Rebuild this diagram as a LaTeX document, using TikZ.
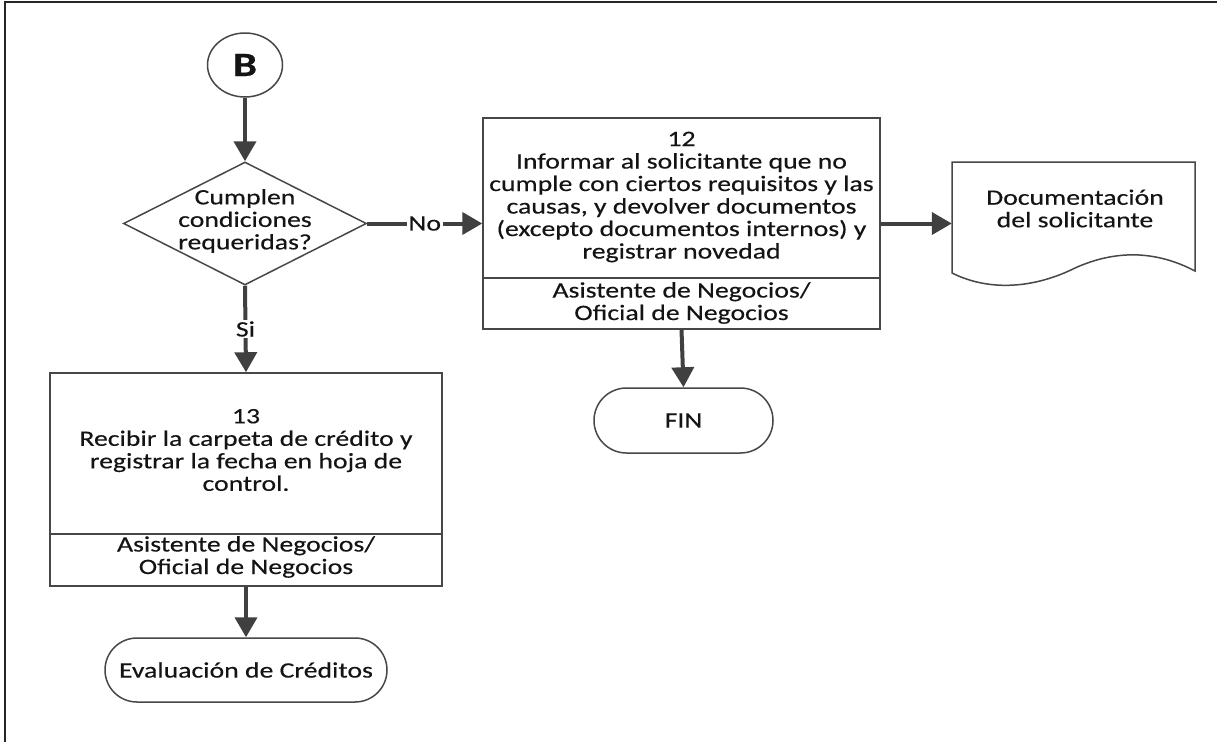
\documentclass[tikz,border=0pt]{standalone}
\usepackage{fontspec}
\setmainfont{Carlito}[FakeStretch=1.26, FakeBold=0.35]
\usetikzlibrary{arrows.meta,shapes.geometric,shapes.misc}

\begin{document}
\begin{tikzpicture}[x=1pt,y=-1pt,
  every node/.style={font=\fontsize{22}{22.5}\selectfont, text=black!92, align=center},
  outline/.style={draw=black!72, line width=1.5pt, fill=white},
  procbox/.style={outline, rectangle, inner sep=0pt},
  terminal/.style={outline, rounded rectangle, inner sep=0pt},
  decision/.style={outline, diamond, inner sep=0pt},
  flow/.style={draw=black!75, line width=4pt, -{Triangle[length=20pt,width=22pt]}},
  flowlabel/.style={fill=white, inner sep=1.5pt},
  divider/.style={draw=black!72, line width=1.5pt},
]
\useasboundingbox (0,0) rectangle (1217,742);
\fill[white] (0,0) rectangle (1217,742);

% page frame (top and left edges)
\draw[line width=2pt, black!85] (5,742) -- (5,2) -- (1217,2);

% connector B
\node[outline, ellipse, minimum width=75pt, minimum height=64pt, inner sep=0pt,
      font=\fontsize{34}{34}\bfseries\selectfont] (conB) at (245,65) {B};

% decision
\node[decision, minimum width=243pt, minimum height=123pt] (dec) at (245,223.5) {};
\node (dectext) at (245,221) {Cumplen\\condiciones\\requeridas?};

% step 12
\node[procbox, minimum width=397pt, minimum height=211pt] (box12) at (681.5,223.5) {};
\draw[divider] (483,278) -- (880,278);
\node (txt12) at (681.5,197) {12\\Informar al solicitante que no\\cumple con ciertos requisitos y las\\causas, y devolver documentos\\(excepto documentos internos) y\\registrar novedad};
\node (role12) at (681.5,303) {Asistente de Negocios/\\Oficial de Negocios};

% document
\node[minimum width=243pt, minimum height=110pt, inner sep=0pt] (doc) at (1073.5,217) {};
\filldraw[outline] (952,162) -- (1195,162) -- (1195,271)
  .. controls (1155,250) and (1115,250) .. (1075,268)
  .. controls (1035,288) and (990,292) .. (952,273) -- cycle;
\node (doctext) at (1075,208.5) {Documentación\\del solicitante};

% end terminal
\node[terminal, minimum width=179pt, minimum height=65pt] (fin) at (683.5,420.5) {FIN};

% step 13
\node[procbox, minimum width=392pt, minimum height=213pt] (box13) at (246,479.5) {};
\draw[divider] (50,534) -- (442,534);
\node (txt13) at (246,450) {13\\Recibir la carpeta de crédito y\\registrar la fecha en hoja de\\control.};
\node (role13) at (246,557) {Asistente de Negocios/\\Oficial de Negocios};

% next process terminal
\node[terminal, minimum width=282pt, minimum height=64pt] (eval) at (246,670) {Evaluación de Créditos};

% connectors
\draw[flow] (conB) -- (dec);
\draw[flow] (dec.east) -- node[flowlabel] {No} (box12.west |- dec.east);
\draw[flow] (dec.south) -- node[flowlabel] {Si} (box13.north);
\draw[flow] (box12.east) -- (box12.east -| doc.west);
\draw[flow] (box12.south) -- (fin.north);
\draw[flow] (box13.south) -- (eval.north);
\end{tikzpicture}
\end{document}
